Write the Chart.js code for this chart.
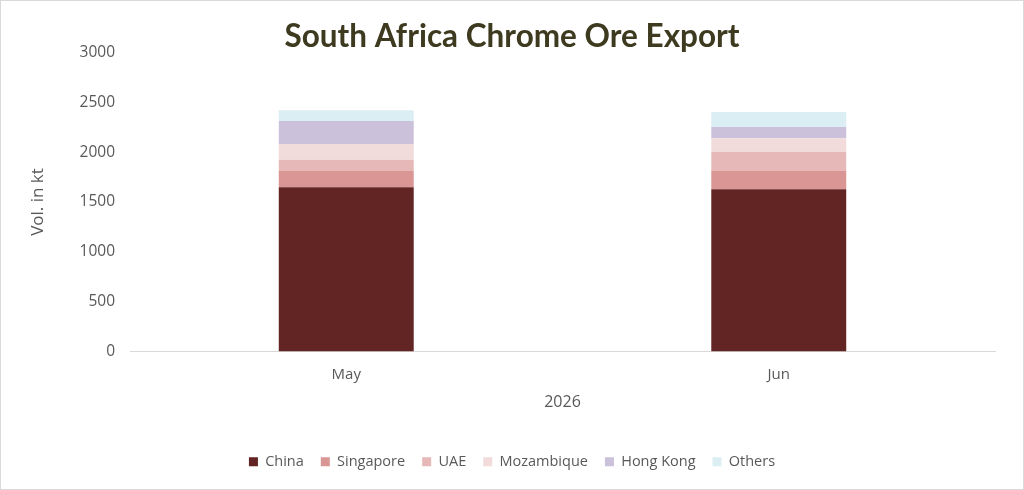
<!DOCTYPE html>
<html>
<head>
<meta charset="utf-8">
<script src="https://cdn.jsdelivr.net/npm/chart.js@4.4.1/dist/chart.umd.min.js"></script>
<style>
html,body{margin:0;padding:0;background:#fff;}
#wrap{width:1024px;height:490px;position:relative;}
</style>
</head>
<body>
<div id="wrap"><canvas id="c" width="1024" height="490"></canvas></div>
<script>
const categories = ["May", "Jun"];
const axisTitleX = "2026";
const axisTitleY = "Vol. in kt";
const chartTitle = "South Africa Chrome Ore Export";
const china = [1647, 1627];
const singapore = [163, 183];
const uae = [113, 193];
const mozambique = [160, 137];
const hongKong = [230, 113];
const others = [107, 150];
const yTicks = [0, 500, 1000, 1500, 2000, 2500, 3000];

const seriesNames = ["China", "Singapore", "UAE", "Mozambique", "Hong Kong", "Others"];
const seriesData = [china, singapore, uae, mozambique, hongKong, others];
const seriesColors = ["#632523", "#D99694", "#E6B9B8", "#F2DCDB", "#CCC1DA", "#DBEEF3"];

const borderPlugin = {
  id: 'outerBorder',
  afterDraw(chart) {
    const ctx = chart.ctx;
    ctx.save();
    ctx.strokeStyle = '#D9D9D9';
    ctx.lineWidth = 1;
    ctx.strokeRect(0.5, 0.5, chart.width - 1, chart.height - 1);
    ctx.restore();
  }
};

const font = "'Open Sans', 'DejaVu Sans', sans-serif";

new Chart(document.getElementById('c'), {
  type: 'bar',
  data: {
    labels: categories,
    datasets: seriesNames.map((n, i) => ({
      label: n,
      data: seriesData[i],
      backgroundColor: seriesColors[i],
      borderWidth: 0,
      barPercentage: 0.312,
      categoryPercentage: 1.0
    }))
  },
  options: {
    responsive: false,
    animation: false,
    devicePixelRatio: 1,
    layout: { padding: { left: 0, right: 0, top: 0, bottom: 11 } },
    plugins: {
      title: {
        display: true,
        text: chartTitle,
        color: '#3D3A20',
        font: { family: "Lato, 'Open Sans', sans-serif", size: 31.5, weight: 'bold', lineHeight: 1.0 },
        padding: { top: 21, bottom: 0 }
      },
      legend: {
        position: 'bottom',
        labels: {
          color: '#595959',
          font: { family: font, size: 14.5 },
          boxWidth: 9,
          boxHeight: 9,
          padding: 17
        }
      },
      tooltip: { enabled: false }
    },
    scales: {
      x: {
        stacked: true,
        grid: { display: false, drawTicks: false },
        border: { display: true, color: '#D9D9D9', width: 1 },
        ticks: { color: '#595959', font: { family: font, size: 15 }, padding: 14 },
        title: { display: true, text: axisTitleX, color: '#595959', font: { family: font, size: 16 }, padding: { top: 6, bottom: 25 } },
        afterFit(s) { s.height = 86; }
      },
      y: {
        stacked: true,
        min: 0,
        max: 3000,
        afterBuildTicks(s) { s.ticks = yTicks.map(v => ({ value: v })); },
        grid: { display: false, drawTicks: false },
        border: { display: false },
        ticks: { color: '#595959', font: { family: font, size: 15.5 }, padding: 15, callback: v => String(v) },
        title: { display: true, text: axisTitleY, color: '#595959', font: { family: font, size: 17 }, padding: { top: 28, bottom: 0 } },
        afterFit(s) { s.width = 130; }
      },
      yRightSpacer: {
        type: 'linear',
        position: 'right',
        display: true,
        min: 0,
        max: 3000,
        grid: { display: false, drawTicks: false },
        border: { display: false },
        ticks: { display: false },
        afterFit(s) { s.width = 29; }
      }
    }
  },
  plugins: [borderPlugin]
});
</script>
</body>
</html>
